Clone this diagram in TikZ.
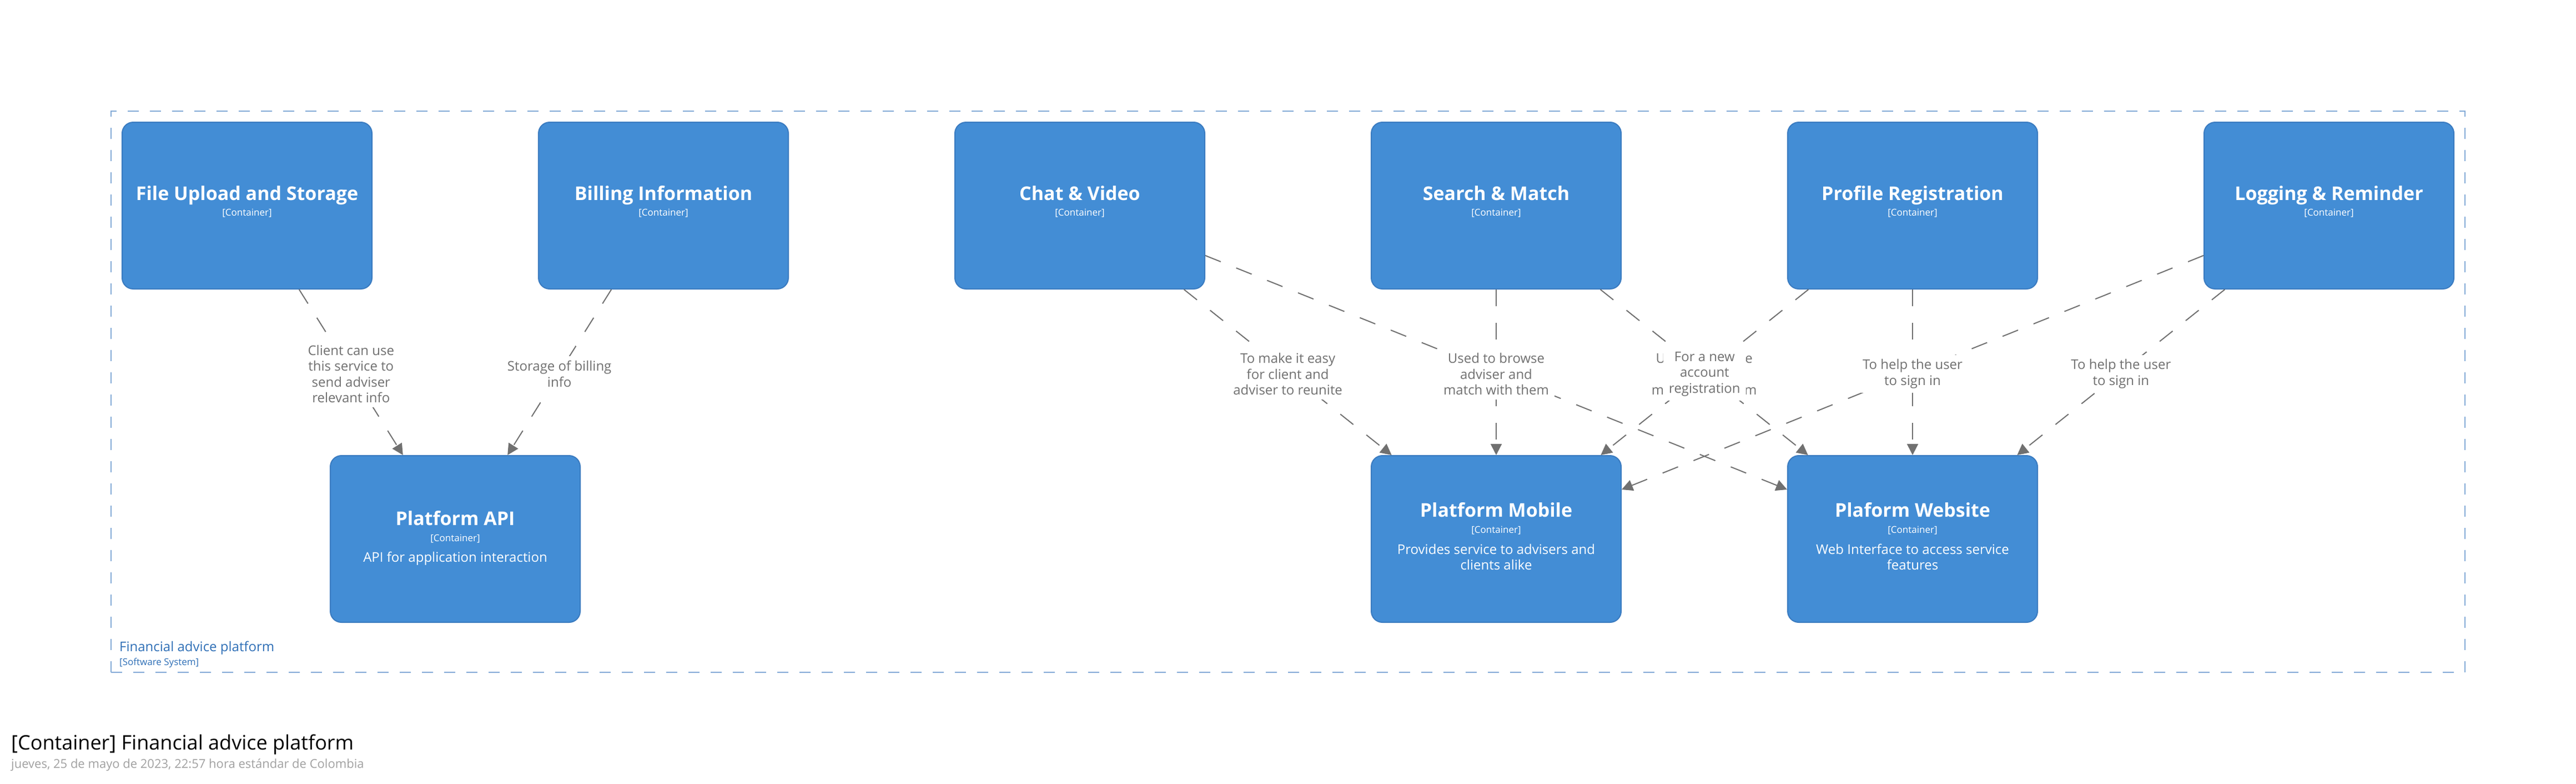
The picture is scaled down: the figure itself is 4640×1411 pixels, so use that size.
\documentclass[tikz,border=0pt]{standalone}
\usepackage{fontspec}
\setmainfont{Open Sans}
\usetikzlibrary{arrows.meta}

\definecolor{boxblue}{HTML}{438DD5}
\definecolor{boxedge}{HTML}{3A7BC0}
\definecolor{relgray}{HTML}{707070}
\definecolor{sysline}{HTML}{82A9D6}
\definecolor{systext}{HTML}{2F6FB6}
\definecolor{dategray}{HTML}{A0A0A0}

\begin{document}
\begin{tikzpicture}[x=1pt,y=1pt,
	container/.style={draw=boxedge,fill=boxblue,line width=2pt,rounded corners=20pt,minimum width=450pt,minimum height=300pt,inner sep=0pt},
	cname/.style={text=white,font=\fontsize{34}{40}\selectfont\bfseries,anchor=base,inner sep=0pt},
	cmeta/.style={text=white,font=\fontsize{17}{20}\selectfont,anchor=base,inner sep=0pt},
	cdesc/.style={text=white,font=\fontsize{24}{28.5}\selectfont,align=center,anchor=north,inner sep=0pt},
	rel/.style={draw=relgray,line width=2pt,dash pattern=on 30pt off 30pt,-{Triangle[length=20pt,width=20pt]}},
	lbl/.style={fill=white,text=relgray,font=\fontsize{24}{28.5}\selectfont,align=center,inner xsep=10pt,inner ysep=8pt,yshift=-3pt},
	boundary/.style={draw=sysline,line width=2pt,dash pattern=on 20pt off 20pt,minimum width=4240pt,minimum height=1010pt,inner sep=0pt}]
		\useasboundingbox (0,0) rectangle (4640,-1411);
		\node [boundary] (platform) at (2320,-705) {};
		\node [anchor=base west,inner sep=0pt,text=systext,font=\fontsize{24}{28}\selectfont] (platformname) at ([xshift=16pt,yshift=39pt]platform.south west) {Financial advice platform};
		\node [anchor=base west,inner sep=0pt,text=systext,font=\fontsize{17}{20}\selectfont] (platformtype) at ([xshift=16pt,yshift=14pt]platform.south west) {[Software System]};
		\node [container] (upload) at (445,-370) {};
		\node [cname] (uploadname) at ([yshift=9.5pt]upload.center) {File Upload and Storage};
		\node [cmeta] (uploadtype) at ([yshift=-18pt]upload.center) {[Container]};
		\node [container] (billing) at (1195,-370) {};
		\node [cname] (billingname) at ([yshift=9.5pt]billing.center) {Billing Information};
		\node [cmeta] (billingtype) at ([yshift=-18pt]billing.center) {[Container]};
		\node [container] (chat) at (1945,-370) {};
		\node [cname] (chatname) at ([yshift=9.5pt]chat.center) {Chat \& Video};
		\node [cmeta] (chattype) at ([yshift=-18pt]chat.center) {[Container]};
		\node [container] (search) at (2695,-370) {};
		\node [cname] (searchname) at ([yshift=9.5pt]search.center) {Search \& Match};
		\node [cmeta] (searchtype) at ([yshift=-18pt]search.center) {[Container]};
		\node [container] (profile) at (3445,-370) {};
		\node [cname] (profilename) at ([yshift=9.5pt]profile.center) {Profile Registration};
		\node [cmeta] (profiletype) at ([yshift=-18pt]profile.center) {[Container]};
		\node [container] (logging) at (4195,-370) {};
		\node [cname] (loggingname) at ([yshift=9.5pt]logging.center) {Logging \& Reminder};
		\node [cmeta] (loggingtype) at ([yshift=-18pt]logging.center) {[Container]};
		\node [container] (api) at (820,-970) {};
		\node [cname] (apiname) at ([yshift=25pt]api.center) {Platform API};
		\node [cmeta] (apitype) at ([yshift=-4pt]api.center) {[Container]};
		\node [cdesc] (apidesc) at ([yshift=-22.8pt]api.center) {API for application interaction};
		\node [container] (mobile) at (2695,-970) {};
		\node [cname] (mobilename) at ([yshift=40pt]mobile.center) {Platform Mobile};
		\node [cmeta] (mobiletype) at ([yshift=11pt]mobile.center) {[Container]};
		\node [cdesc] (mobiledesc) at ([yshift=-8.8pt]mobile.center) {Provides service to advisers and\\clients alike};
		\node [container] (website) at (3445,-970) {};
		\node [cname] (websitename) at ([yshift=40pt]website.center) {Plaform Website};
		\node [cmeta] (websitetype) at ([yshift=11pt]website.center) {[Container]};
		\node [cdesc] (websitedesc) at ([yshift=-8.8pt]website.center) {Web Interface to access service\\features};
		\draw [rel] (upload) -- (api);
		\draw [rel] (billing) -- (api);
		\draw [rel] (chat) -- (mobile);
		\draw [rel] (chat) -- (website);
		\draw [rel] (search) -- (mobile);
		\draw [rel] (search) -- (website);
		\draw [rel] (profile) -- (mobile);
		\draw [rel] (profile) -- (website);
		\draw [rel] (logging) -- (mobile);
		\draw [rel] (logging) -- (website);
		\path (upload) -- node [lbl] (uploadlbl) {Client can use\\this service to\\send adviser\\relevant info} (api);
		\path (billing) -- node [lbl] (billinglbl) {Storage of billing\\info} (api);
		\path (chat) -- node [lbl] (chatlbl) {To make it easy\\for client and\\adviser to reunite} (mobile);
		\path (search) -- node [lbl] (searchwlbl) {Used to browse\\adviser and\\match with them} (website);
		\path (search) -- node [lbl] (searchmlbl) {Used to browse\\adviser and\\match with them} (mobile);
		\path (profile) -- node [lbl] (profilemlbl) {For a new\\account\\registration} (mobile);
		\path (profile) -- node [lbl] (profilewlbl) {To help the user\\to sign in} (website);
		\path (logging) -- node [lbl] (logginglbl) {To help the user\\to sign in} (website);
		\node [anchor=base west,inner sep=0pt,font=\fontsize{36}{40}\selectfont] (title) at (20,-1349) {[Container] Financial advice platform};
		\node [anchor=base west,inner sep=0pt,text=dategray,font=\fontsize{22}{26}\selectfont] (date) at (20,-1382) {jueves, 25 de mayo de 2023, 22:57 hora estándar de Colombia};
\end{tikzpicture}
\end{document}
